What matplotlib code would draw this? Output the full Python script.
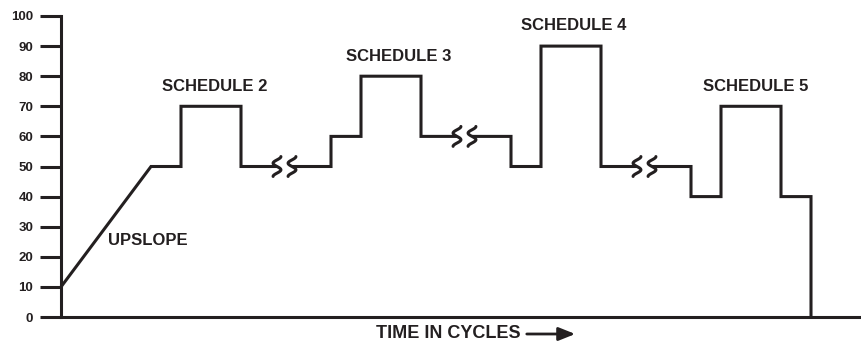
import numpy as np
import matplotlib
matplotlib.use("Agg")
import matplotlib.pyplot as plt

plt.rcParams['font.family'] = ['Liberation Sans', 'DejaVu Sans']

# Current (percent) schedule over time (cycles); NaN marks a broken time axis
time = [0, 3, 4, 4, 6, 6, 7.2, np.nan,
        7.7, 9, 9, 10, 10, 12, 12, 13.2, np.nan,
        13.7, 15, 15, 16, 16, 18, 18, 19.2, np.nan,
        19.7, 21, 21, 22, 22, 24, 24, 25, 25]
level = [10, 50, 50, 70, 70, 50, 50, np.nan,
         50, 50, 60, 60, 80, 80, 60, 60, np.nan,
         60, 60, 50, 50, 90, 90, 50, 50, np.nan,
         50, 50, 40, 40, 70, 70, 40, 40, 0]

# break marks: (x of first squiggle, x of second squiggle, level)
break_x1 = [7.2, 13.2, 19.2]
break_x2 = [7.7, 13.7, 19.7]
break_lv = [50, 60, 50]

labels = ["SCHEDULE 2", "SCHEDULE 3", "SCHEDULE 4", "SCHEDULE 5", "UPSLOPE"]
label_x = [5.12, 11.25, 17.08, 23.17, 2.9]
label_y = [76.5, 86.5, 96.8, 76.5, 25.5]

yticks = [0, 10, 20, 30, 40, 50, 60, 70, 80, 90, 100]

INK = '#231f20'
W, H = 861, 345
fig = plt.figure(figsize=(W / 100, H / 100), dpi=100)
ax = fig.add_axes([61 / W, (H - 317) / H, 1 - 61 / W, (317 - 16) / H])
ax.set_xlim(0, 800 / 30)
ax.set_ylim(0, 100)

ax.plot(time, level, color=INK, lw=2.2, solid_joinstyle='miter',
        solid_capstyle='butt', clip_on=False)

# squiggle break marks
s = np.linspace(-0.5, 0.5, 80)
for x1, x2, lv in zip(break_x1, break_x2, break_lv):
    for xc in (x1, x2):
        ax.plot(xc - 0.13 * np.sin(3 * np.pi * s), lv + 6.6 * s,
                color=INK, lw=2.2, solid_capstyle='round', clip_on=False)

for t, x, y in zip(labels, label_x, label_y):
    ax.text(x, y, t, ha='center', va='center', fontsize=12,
            fontweight='bold', color=INK)

for side in ('top', 'right'):
    ax.spines[side].set_visible(False)
for side in ('left', 'bottom'):
    ax.spines[side].set_linewidth(2.2)
    ax.spines[side].set_color(INK)
ax.set_xticks([])
ax.set_yticks(yticks)
ax.set_yticklabels([str(v) for v in yticks], fontsize=9.5, fontweight='bold',
                   color=INK)
ax.tick_params(axis='y', length=15, width=2.2, color=INK, pad=5)

fig.text(376 / W, (H - 334) / H, "TIME IN CYCLES", ha='left', va='center',
         fontsize=13, fontweight='bold', color=INK)
fig.patches.append(matplotlib.patches.FancyArrowPatch(
    (524 / W, (H - 334) / H), (578 / W, (H - 334) / H),
    transform=fig.transFigure, arrowstyle='-|>,head_length=10,head_width=4',
    color=INK, lw=2, mutation_scale=1))

fig.savefig("out.png", dpi=100)
